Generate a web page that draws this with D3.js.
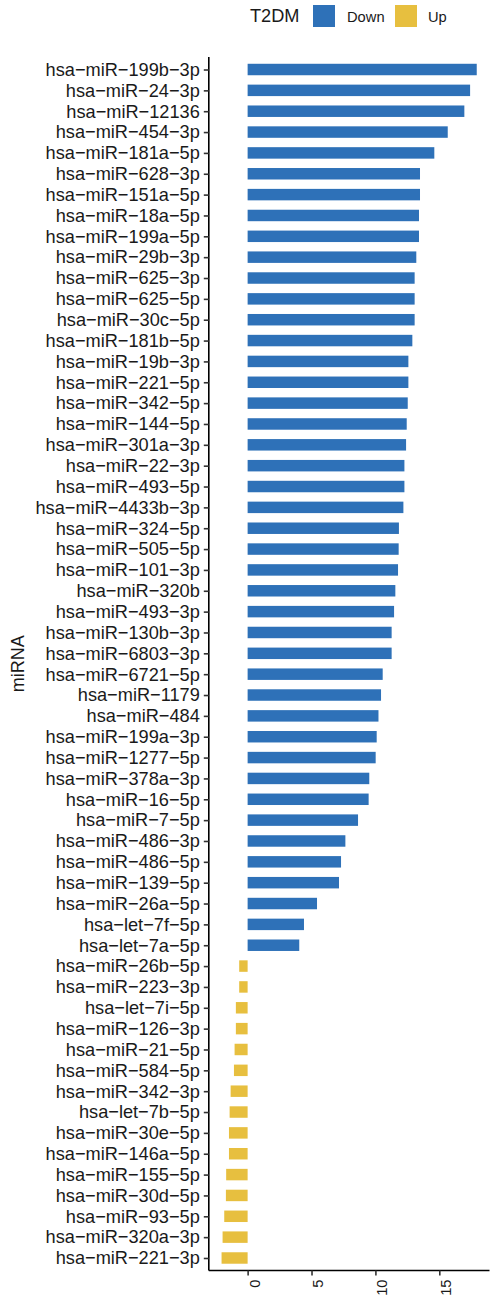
<!DOCTYPE html>
<html>
<head>
<meta charset="utf-8">
<script src="https://cdn.jsdelivr.net/npm/d3@7"></script>
<style>
  body { margin: 0; background: #fff; }
  text { font-family: "Liberation Sans", Arial, Helvetica, sans-serif; fill: #1a1a1a; }
</style>
</head>
<body>
<svg id="chart" width="491" height="1311"></svg>
<script>
// miRNAs, top to bottom
const mirnas = [
  "hsa-miR-199b-3p", "hsa-miR-24-3p", "hsa-miR-12136", "hsa-miR-454-3p", "hsa-miR-181a-5p",
  "hsa-miR-628-3p", "hsa-miR-151a-5p", "hsa-miR-18a-5p", "hsa-miR-199a-5p", "hsa-miR-29b-3p",
  "hsa-miR-625-3p", "hsa-miR-625-5p", "hsa-miR-30c-5p", "hsa-miR-181b-5p", "hsa-miR-19b-3p",
  "hsa-miR-221-5p", "hsa-miR-342-5p", "hsa-miR-144-5p", "hsa-miR-301a-3p", "hsa-miR-22-3p",
  "hsa-miR-493-5p", "hsa-miR-4433b-3p", "hsa-miR-324-5p", "hsa-miR-505-5p", "hsa-miR-101-3p",
  "hsa-miR-320b", "hsa-miR-493-3p", "hsa-miR-130b-3p", "hsa-miR-6803-3p", "hsa-miR-6721-5p",
  "hsa-miR-1179", "hsa-miR-484", "hsa-miR-199a-3p", "hsa-miR-1277-5p", "hsa-miR-378a-3p",
  "hsa-miR-16-5p", "hsa-miR-7-5p", "hsa-miR-486-3p", "hsa-miR-486-5p", "hsa-miR-139-5p",
  "hsa-miR-26a-5p", "hsa-let-7f-5p", "hsa-let-7a-5p", "hsa-miR-26b-5p", "hsa-miR-223-3p",
  "hsa-let-7i-5p", "hsa-miR-126-3p", "hsa-miR-21-5p", "hsa-miR-584-5p", "hsa-miR-342-3p",
  "hsa-let-7b-5p", "hsa-miR-30e-5p", "hsa-miR-146a-5p", "hsa-miR-155-5p", "hsa-miR-30d-5p",
  "hsa-miR-93-5p", "hsa-miR-320a-3p", "hsa-miR-221-3p"
];

// score for each miRNA
const values = [
  17.93, 17.41, 16.96, 15.66, 14.61,
  13.49, 13.49, 13.41, 13.41, 13.20,
  13.07, 13.07, 13.07, 12.89, 12.58,
  12.58, 12.53, 12.45, 12.40, 12.27,
  12.27, 12.19, 11.84, 11.82, 11.77,
  11.56, 11.46, 11.27, 11.27, 10.57,
  10.44, 10.24, 10.10, 10.02, 9.52,
  9.47, 8.64, 7.65, 7.31, 7.15,
  5.43, 4.41, 4.04, -0.66, -0.66,
  -0.92, -0.92, -1.02, -1.07, -1.33,
  -1.41, -1.46, -1.46, -1.68, -1.70,
  -1.83, -1.96, -2.04
];

// T2DM direction for each miRNA
const direction = [
  "Down", "Down", "Down", "Down", "Down", "Down", "Down", "Down", "Down", "Down",
  "Down", "Down", "Down", "Down", "Down", "Down", "Down", "Down", "Down", "Down",
  "Down", "Down", "Down", "Down", "Down", "Down", "Down", "Down", "Down", "Down",
  "Down", "Down", "Down", "Down", "Down", "Down", "Down", "Down", "Down", "Down",
  "Down", "Down", "Down", "Up", "Up", "Up", "Up", "Up", "Up", "Up",
  "Up", "Up", "Up", "Up", "Up", "Up", "Up", "Up"
];

const groups = ["Down", "Up"];
const groupColors = ["#2E71B8", "#E7BF3F"];
const xTickValues = [0, 5, 10, 15];

const data = mirnas.map((m, i) => ({ name: m, value: values[i], dir: direction[i] }));

const svg = d3.select("#chart");
const panel = { left: 208.8, right: 489.5, top: 57, bottom: 1270.5 };

// 5% expansion on the value range
const lo = d3.min(values), hi = d3.max(values), span = hi - lo;
const x = d3.scaleLinear()
  .domain([lo - span * 0.05, hi + span * 0.05])
  .range([panel.left, panel.right]);

// discrete axis with 0.6 step expansion on each end
const y = d3.scalePoint()
  .domain(mirnas)
  .range([panel.top, panel.bottom])
  .padding(0.6);

const color = d3.scaleOrdinal().domain(groups).range(groupColors);
const barH = y.step() * 0.55;
const minus = s => s.replace(/-/g, "\u2212");

// bars
svg.append("g").selectAll("rect")
  .data(data)
  .join("rect")
  .attr("x", d => x(Math.min(0, d.value)))
  .attr("width", d => Math.abs(x(d.value) - x(0)))
  .attr("y", d => y(d.name) - barH / 2)
  .attr("height", barH)
  .attr("fill", d => color(d.dir));

// y axis
const yAxis = svg.append("g")
  .attr("transform", `translate(${panel.left},0)`)
  .call(d3.axisLeft(y).tickSize(5).tickPadding(4).tickFormat(minus));
yAxis.select(".domain").attr("stroke", "#000").attr("stroke-width", 1.6)
  .attr("d", `M0,${panel.top}V${panel.bottom}`);
yAxis.selectAll(".tick line").attr("stroke", "#333").attr("stroke-width", 1.6);
yAxis.selectAll(".tick text")
  .attr("font-size", "18.2px")
  .attr("fill", "#1a1a1a")
  .attr("font-family", '"Liberation Sans", Arial, sans-serif');

// x axis
const xAxis = svg.append("g")
  .attr("transform", `translate(0,${panel.bottom})`)
  .call(d3.axisBottom(x).tickValues(xTickValues).tickSize(5));
xAxis.select(".domain").attr("stroke", "#000").attr("stroke-width", 1.6)
  .attr("d", `M${panel.left},0H${panel.right}`);
xAxis.selectAll(".tick line").attr("stroke", "#333").attr("stroke-width", 1.6);
xAxis.selectAll(".tick text")
  .attr("font-size", "14.7px")
  .attr("fill", "#4d4d4d")
  .attr("font-family", '"Liberation Sans", Arial, sans-serif')
  .attr("text-anchor", "end")
  .attr("dominant-baseline", "hanging")
  .attr("y", 0).attr("dy", 0)
  .attr("transform", "translate(1,9) rotate(-90)");

// y axis title
svg.append("text")
  .attr("transform", `translate(24,${(panel.top + panel.bottom) / 2}) rotate(-90)`)
  .attr("text-anchor", "middle")
  .attr("font-size", "18px")
  .text("miRNA");

// legend
const legend = svg.append("g");
legend.append("text")
  .attr("x", 250).attr("y", 22)
  .attr("font-size", "18.2px")
  .text("T2DM");
const keyX = [313, 395];
const labelX = [347, 428];
groups.forEach((g, i) => {
  legend.append("rect")
    .attr("x", keyX[i]).attr("y", 5)
    .attr("width", 22).attr("height", 22)
    .attr("fill", color(g));
  legend.append("text")
    .attr("x", labelX[i]).attr("y", 21.5)
    .attr("font-size", "14.7px")
    .text(g);
});
</script>
</body>
</html>
